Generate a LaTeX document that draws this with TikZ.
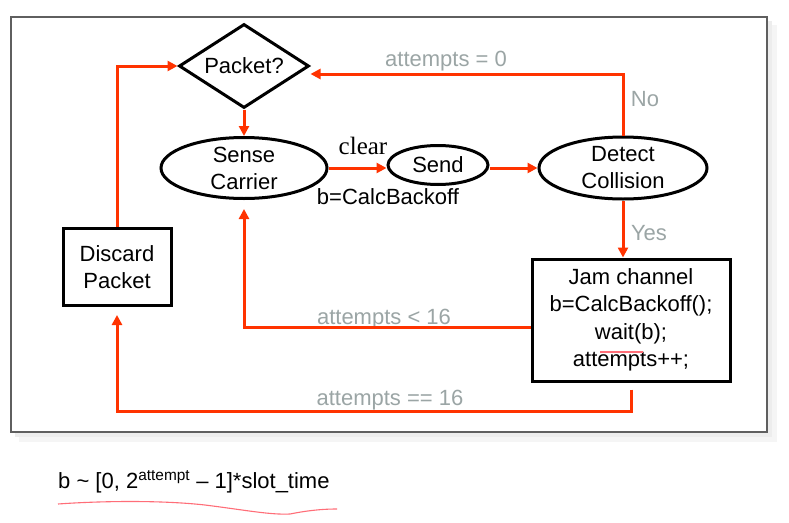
\documentclass[tikz,border=0pt]{standalone}
\usepackage{fontspec}
\setmainfont{Liberation Sans}
\newfontfamily\serifclear{Liberation Serif}
\usetikzlibrary{shapes.geometric,arrows.meta,calc}
\definecolor{flowred}{RGB}{255,51,0}
\definecolor{labelgray}{RGB}{155,165,165}
\definecolor{framegray}{RGB}{95,95,95}
\definecolor{penpink}{RGB}{255,110,120}
\begin{document}
\begin{tikzpicture}[x=1pt,y=-1pt,
 every node/.style={font=\fontsize{22}{27}\selectfont},
 flow/.style={draw=flowred, line width=3pt, -{Triangle[length=10pt,width=10pt]}},
 shapeline/.style={draw=black, line width=3pt},
 oval/.style={shapeline, ellipse, inner xsep=0pt, inner ysep=-5pt, align=center},
 boxnode/.style={shapeline, rectangle, inner sep=0pt, align=center},
 glabel/.style={text=labelgray, inner sep=0pt},
 penline/.style={draw=penpink, line width=1.1pt}]
\useasboundingbox (0,0) rectangle (789,522);
\fill[white] (0,0) rectangle (789,522);
% frame with soft shadow
\fill[black!4] (19,25) rectangle (777,442);
\fill[black!7] (15,21) rectangle (772,437);
\draw[framegray, line width=1.5pt, fill=white] (11,17) rectangle (767,432);
% nodes
\node[shapeline, diamond, aspect=1.55, minimum width=130pt, minimum height=84pt, inner sep=0pt] (pk) at (244,66) {Packet?};
\node[oval, minimum width=166pt, minimum height=61pt] (sc) at (244,168) {Sense\\Carrier};
\node[oval, minimum width=100pt, minimum height=39pt] (sd) at (438,165) {Send};
\node[oval, minimum width=168pt, minimum height=62pt] (dc) at (623,168) {Detect\\Collision};
\node[boxnode, minimum width=198pt, minimum height=122pt, font=\fontsize{22}{27.5}\selectfont] (jam) at (631,320) {Jam channel\\b=CalcBackoff();\\wait(b);\\attempts++;};
\node[boxnode, minimum width=108pt, minimum height=77pt, font=\fontsize{22}{27.5}\selectfont] (dp) at (117,267) {Discard\\Packet};
% labels
\node[font=\serifclear\fontsize{25}{30}\selectfont, inner sep=0pt] (clr) at (363,146) {clear};
\node[inner sep=0pt] (cb) at (388,197) {b=CalcBackoff};
\node[glabel] (l0) at (446,61) {attempts = 0};
\node[glabel] (lno) at (645,99) {No};
\node[glabel] (lyes) at (649,233) {Yes};
\node[glabel] (l16) at (384,319) {attempts < 16};
\node[glabel] (leq) at (390,400) {attempts == 16};
\node[anchor=west, inner sep=0pt] (fm) at (58,482) {b \textasciitilde{} [0, 2\textsuperscript{attempt} – 1]*slot\_time};
% helper coordinates
\coordinate (ytop) at (0,74);
\coordinate (ybot) at (0,411);
\coordinate (j1) at ($(jam.west)+(0,7)$);
\coordinate (j2) at ($(jam.south)+(0,7)$);
% connectors
\draw[flow] (pk.south) -- (sc.north);
\draw[flow] (sc.east) -- (sc.east -| sd.west);
\draw[flow] (sd.east |- dc.west) -- (dc.west);
\draw[flow] (dc.north) -- (dc.north |- ytop) -- ($(pk.east)+(0,8)$);
\draw[flow] (dc.south) -- (dc.south |- jam.north);
\draw[flow] (j1) -- (j1 -| sc.south) -- ($(sc.south)+(0,9)$);
\draw[flow] (j2) -- (j2 |- ybot) -- (dp.south |- ybot) -- ($(dp.south)+(0,8)$);
\draw[flow] (dp.north) -- (dp.north |- pk.west) -- (pk.west);
% pen annotations
\draw[penline] (600,352) -- (643,352);
\draw[penline] (58,504) .. controls (100,501) and (160,500) .. (205,505) .. controls (245,510) and (270,515) .. (290,514) .. controls (305,511) and (320,509) .. (337,509);
\end{tikzpicture}
\end{document}
